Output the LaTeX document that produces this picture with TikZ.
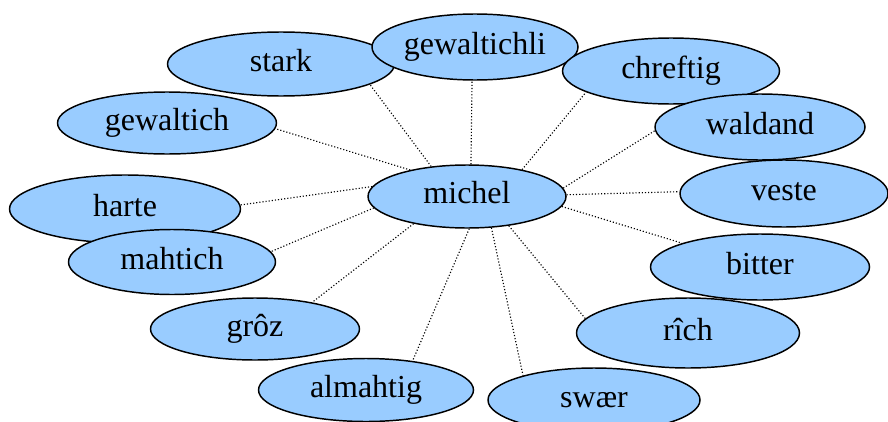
\documentclass[tikz,border=0pt]{standalone}
\usepackage{fontspec}
\setmainfont{Liberation Serif}
\usetikzlibrary{shapes.geometric,backgrounds}
\definecolor{sky}{RGB}{153,204,255}
\tikzset{
  word/.style 2 args={ellipse,draw=black,line width=1.1pt,fill=sky,inner sep=0pt,
    minimum width=#1*0.75pt,minimum height=#2*0.75pt,
    font=\fontsize{24}{27}\selectfont,text height=16pt,text depth=5.4pt},
  link/.style={line width=0.85pt,dash pattern=on 0.85pt off 1.5pt,draw=black}
}
\begin{document}
\begin{tikzpicture}[x=0.75pt,y=-0.75pt]
  \useasboundingbox (0,0) rectangle (888,421);
  \node[word={227}{64}] (stark) at (281,64) {stark};
  \node[word={206}{66}] (gewaltichli) at (475,47) {gewaltichli};
  \node[word={217}{66}] (chreftig) at (671,71) {chreftig};
  \node[word={210}{66}] (waldand) at (760,127) {waldand};
  \node[word={208}{67}] (veste) at (784,193.5) {veste};
  \node[word={219}{62}] (gewaltich) at (167,123) {gewaltich};
  \node[word={231}{68}] (harte) at (125,209) {harte};
  \node[word={207}{65}] (mahtich) at (172,262) {mahtich};
  \node[word={219}{66}] (bitter) at (760,267) {bitter};
  \node[word={209}{62}] (groz) at (255,329) {grôz};
  \node[word={223}{70}] (rich) at (688,333) {rîch};
  \node[word={215}{63}] (almahtig) at (366,390) {almahtig};
  \node[word={212}{64}] (swaer) at (594,400) {swær};
  \node[word={198}{63}] (michel) at (467,196.5) {michel};
  % dotted spokes, behind the ellipses
  \begin{scope}[on background layer]
    \foreach \n/\a/\b in {stark/140/-13,gewaltich/155/-3,gewaltichli/83/-95,chreftig/26/-166,
      waldand/5/182,veste/1/179,bitter/-6/163,rich/-35/172,swaer/-52/161,
      almahtig/-86/32,groz/-153/25,mahtich/187/6,harte/174/2}
      \draw[link] (michel.\a) -- (\n.\b);
  \end{scope}
\end{tikzpicture}
\end{document}
